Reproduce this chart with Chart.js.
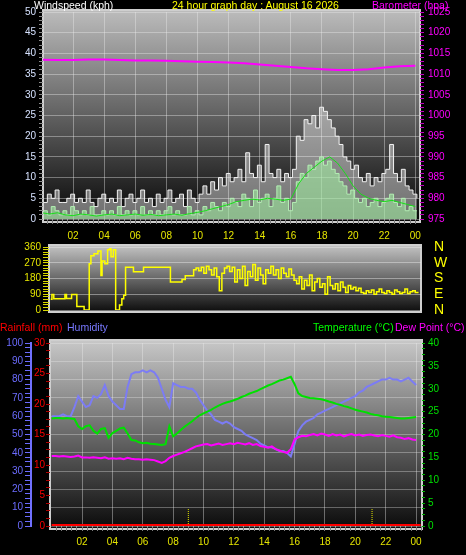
<!DOCTYPE html>
<html>
<head>
<meta charset="utf-8">
<script src="https://cdn.jsdelivr.net/npm/chart.js@4.4.1/dist/chart.umd.min.js"></script>
<style>
html, body { margin: 0; padding: 0; background: #000; width: 466px; height: 555px; overflow: hidden; }
#wrap { position: relative; width: 466px; height: 555px; font-family: 'Liberation Sans', Arial, sans-serif; }
canvas { position: absolute; left: 0; }
.lbl { position: absolute; font-size: 10.5px; line-height: 13px; white-space: nowrap; z-index: 5; }
</style>
</head>
<body>
<div id="wrap">
  <canvas id="windChart" width="466" height="245" style="top:0"></canvas>
  <canvas id="dirChart" width="466" height="85" style="top:239px"></canvas>
  <canvas id="tempChart" width="466" height="235" style="top:320px"></canvas>

  <span class="lbl" style="left:34px;top:-1px;color:#ffffff">Windspeed (kph)</span>
  <span class="lbl" style="left:172px;top:-1px;color:#ffff00">24 hour graph day : August 16 2026</span>
  <span class="lbl" style="left:372px;top:-1px;color:#ff00ff">Barometer (hpa)</span>
  <span class="lbl" style="left:0;top:321px;color:#ff0000">Rainfall (mm)</span>
  <span class="lbl" style="left:67px;top:321px;color:#7878ff">Humidity</span>
  <span class="lbl" style="left:313px;top:321px;color:#00ff00">Temperature (°C)</span>
  <span class="lbl" style="left:395px;top:321px;color:#ff00ff">Dew Point (°C)</span>
</div>

<script>
// ---- wind (kph), one value every 15 minutes from 00:06
const windStart = 0.1;
const windStep = 0.25;
const windGust = [4, 6, 5, 7, 4, 4, 5, 6, 4,
  5, 4, 7, 4, 3, 5, 6, 4,
  5, 4, 7, 3, 5, 6, 4, 5,
  7, 4, 5, 3, 6, 4, 5, 7,
  4, 5, 6, 3, 7, 5, 4, 6,
  8, 6, 9, 7, 10, 8, 11, 9,
  10, 12, 9, 16, 11, 10, 13, 9,
  18, 11, 10, 12, 9, 11, 10, 12,
  20, 19, 24, 23, 25, 22, 27, 26,
  24, 22, 20, 18, 15, 14, 12, 13,
  10, 9, 11, 8, 10, 9, 11, 12,
  18, 11, 9, 12, 8, 7, 6, 5];
const windSpeed = [2, 1, 3, 2, 1, 2, 1, 3, 2,
  1, 2, 1, 3, 1, 1, 2, 1,
  2, 1, 3, 1, 2, 1, 2, 1,
  3, 1, 2, 1, 2, 1, 2, 3,
  1, 2, 1, 1, 3, 1, 2, 1,
  3, 2, 4, 3, 2, 4, 3, 5,
  4, 3, 6, 5, 3, 7, 4, 5,
  6, 3, 5, 8, 4, 5, 2, 4,
  9, 11, 10, 13, 12, 14, 15, 13,
  14, 12, 11, 9, 8, 6, 7, 5,
  4, 5, 3, 4, 5, 3, 4, 5,
  6, 4, 3, 5, 2, 3, 2, 2];
// average wind, every 30 minutes from 00:00
const avgStep = 0.5;
const windAvg = [1.5, 1.2, 1.5, 1.0, 0.8, 1.2, 1.0, 0.7, 1.0, 1.2, 0.8, 1.0, 1.2, 0.9, 1.1, 0.8, 1.0, 1.2, 0.9, 1.3, 1.6,
  2.0, 2.5, 3.0, 3.5, 4.2, 4.5, 4.8, 4.6, 5.0, 4.8, 4.5, 4.8,
  8.5, 11, 12.5, 14, 15, 13.5, 11, 8,
  6, 5, 4.5, 4.2, 4.5, 4.0, 3.5, 3.0];
// barometer (hpa), hourly
const baroHours = [0, 1, 2, 3, 4, 5, 6, 7, 8, 9, 10, 11, 12, 13, 14, 15, 16, 17, 18, 19, 20, 21, 22, 23, 24];
const baro = [1013.5, 1013.4, 1013.4, 1013.5, 1013.5, 1013.4, 1013.3, 1013.3, 1013.2, 1013.1, 1013.0, 1012.9,
  1012.8, 1012.6, 1012.3, 1012.0, 1011.7, 1011.4, 1011.2, 1011.0, 1011.0, 1011.2, 1011.6, 1011.9, 1012.0];

// ---- wind direction (degrees)
const dirEarlyHours = [0.5, 0.58, 0.7, 1.42, 1.52, 1.85, 2.19, 2.66, 2.99, 3.1,
  3.3, 3.55, 3.75, 3.82, 4.0, 4.18, 4.3, 4.4, 4.55, 4.7,
  4.95, 5.1, 5.22, 5.34, 5.85, 6.5, 8.24, 8.99, 9.2, 9.74];
const dirEarly = [62, 88, 64, 88, 66, 88, 20, 0, 264, 310,
  322, 337, 197, 280, 265, 345, 350, 305, 345, 0,
  28, 65, 84, 244, 219, 244, 160, 175, 196, 230];
// every 10 minutes from 09:54
const dirLateStart = 9.9;
const dirLateStep = 1 / 6;
const dirLate = [240, 225, 245, 210, 250, 230, 200, 240,
  190, 110, 210,
  240, 250, 220, 245,
  160, 230, 180, 250, 140, 220, 190, 260, 170, 240, 200, 150, 230, 210,
  250, 200, 230, 180, 240, 210, 190, 235, 200, 170,
  150, 190, 120, 170, 140, 200, 110, 160, 180, 130, 150, 90, 190, 140, 120,
  150, 110, 160, 130, 100, 140, 120, 130, 110, 125, 100,
  95, 110, 100, 115, 90, 105, 120, 100, 95, 110, 100, 90, 115, 105, 95, 100, 120, 95, 105, 110, 100, 105];
const compass = { 0: 'N', 90: 'E', 180: 'S', 270: 'W', 360: 'N' };

// ---- temperature panel, one value every 15 minutes from 00:00
const tempStep = 0.25;
const humidity = [60, 60, 60, 61, 60, 60, 65, 71, 68, 65, 66, 71, 70, 72, 77, 71,
  68, 66, 64, 64, 76, 83, 84, 84, 85, 84, 85, 84, 81, 75, 69, 65,
  78, 77, 76, 76, 75, 75, 73, 69, 66, 63, 61, 58, 57, 56, 57, 56,
  54, 53, 52, 50, 49, 48, 47, 45, 44, 43, 43, 42, 41, 41, 40, 38,
  45, 52, 55, 57, 58, 59, 61, 62, 63, 64, 65, 66, 67, 68, 69, 70,
  71, 73, 74, 76, 77, 78, 79, 80, 80, 81, 80, 80, 79, 80, 81, 79, 77];
const temperature = [23.5, 23.6, 23.6, 23.5, 23.6, 23.5, 23.4, 21.8, 21.2, 21.8, 22.0, 20.8, 20.2, 21.2, 21.4, 19.3,
  20.3, 20.8, 21.3, 21.5, 20.2, 18.8, 18.7, 18.3, 18.1, 18.2, 18.0, 17.9, 17.8, 17.7, 17.9, 21.8,
  19.6, 20.2, 21.0, 21.7, 22.3, 22.9, 23.6, 24.2, 24.6, 25.0, 25.4, 25.9, 26.3, 26.7, 27.0, 27.2,
  27.5, 27.8, 28.2, 28.5, 28.9, 29.2, 29.5, 29.9, 30.3, 30.7, 31.0, 31.4, 31.8, 32.0, 32.3, 32.6,
  31.0, 29.0, 28.4, 28.2, 28.0, 27.9, 27.8, 27.7, 27.5, 27.2, 27.0, 26.7, 26.5, 26.2, 26.0, 25.7,
  25.4, 25.2, 25.0, 24.8, 24.5, 24.3, 24.2, 24.0, 23.9, 23.8, 23.7, 23.6, 23.5, 23.5, 23.6, 23.7, 23.8];
const dewPoint = [15.3, 15.3, 15.2, 15.3, 15.2, 15.1, 15.2, 15.4,
  15.0, 15.0, 14.9, 15.0, 14.9, 14.8, 15.0, 14.7,
  14.8, 14.7, 14.8, 14.6, 14.9, 14.7, 14.6, 14.6,
  14.5, 14.6, 14.5, 14.4, 14.1, 13.8, 14.2, 14.9,
  15.3, 15.6, 15.9, 16.2, 16.6, 17.0, 17.4, 17.6,
  17.8, 17.9, 17.6, 17.8, 18.0, 17.7, 17.9, 18.1,
  17.9, 18.2, 18.0, 17.8, 18.1, 17.7, 17.9, 17.5,
  17.3, 17.1, 17.4, 16.8, 16.5, 16.2, 16.0, 16.8,
  18.9, 19.4, 19.7, 19.6, 19.9, 20.1, 19.8, 20.2,
  20.0, 19.7, 20.1, 19.8, 20.0, 19.6, 19.9, 20.1,
  19.8, 20.0, 19.7, 19.9, 20.0, 19.8, 19.6, 19.9,
  19.7, 19.5, 19.8, 19.4, 19.3, 19.0, 19.2, 18.9, 18.8];
const rainHours = [0, 24.3];
const rainfall = [0, 0];
const markerHours = [9.0, 21.1];
const markerTop = 3.7; // in degC, height of the little dotted marks

Chart.defaults.font.family = "'Liberation Sans', Arial, sans-serif";
Chart.defaults.font.size = 10;
Chart.defaults.animation = false;

const pts = (arr, start, step) => arr.map((v, i) => ({ x: start + i * step, y: v }));
const every = (v, m) => Math.abs(v / m - Math.round(v / m)) < 1e-6;

// gradient plot background + light frame
const plotBg = {
  id: 'plotBg',
  beforeDraw(chart, args, o) {
    const { ctx, chartArea: a } = chart;
    const top = a.top - o.padTop, bottom = a.bottom + o.padBottom;
    const g = ctx.createLinearGradient(0, top, 0, bottom);
    g.addColorStop(0, o.from);
    g.addColorStop(1, o.to);
    ctx.save();
    ctx.fillStyle = g;
    ctx.fillRect(a.left, top, a.right - a.left, bottom - top);
    ctx.strokeStyle = '#cfcfcf';
    ctx.lineWidth = 2;
    ctx.strokeRect(a.left, top, a.right - a.left, bottom - top);
    ctx.restore();
  }
};

function hourTicks(scale) {
  const t = [];
  for (let k = 1; k / 3 <= scale.max + 1e-9; k++) t.push({ value: k / 3 });
  scale.ticks = t;
}

function ruler(step) {
  return scale => {
    const t = [];
    const n = Math.round((scale.max - scale.min) / step);
    for (let k = 0; k <= n; k++) t.push({ value: scale.min + k * step });
    scale.ticks = t;
  };
}

function hourAxis(min, max, height, pad) {
  return {
    type: 'linear', min, max,
    afterBuildTicks: hourTicks,
    afterFit: s => { s.height = height; },
    border: { display: false },
    grid: {
      color: c => (c.tick && every(c.tick.value, 2)) ? 'rgba(235,235,235,0.4)' : 'rgba(0,0,0,0)',
      borderDash: [1, 2], tickBorderDash: [],
      tickColor: '#7a7a7a', tickLength: 5
    },
    ticks: {
      color: '#e6e600', padding: pad, autoSkip: false, maxRotation: 0,
      callback: v => every(v, 2) ? String(Math.round(v) % 24).padStart(2, '0') : ''
    }
  };
}

function valueAxis(opts) {
  return {
    type: 'linear', position: opts.position, min: opts.min, max: opts.max, weight: opts.weight || 0,
    afterBuildTicks: ruler(opts.step),
    afterFit: s => { s.width = opts.width; },
    border: opts.border || { display: false },
    grid: {
      drawOnChartArea: !!opts.gridColor,
      color: c => (opts.gridColor && c.tick && every(c.tick.value, opts.major)) ? opts.gridColor : 'rgba(0,0,0,0)',
      borderDash: [1, 2], tickBorderDash: [],
      tickColor: opts.tickColor, tickLength: opts.tickLength
    },
    ticks: {
      color: opts.color, padding: opts.pad, autoSkip: false,
      callback: v => every(v, opts.major) ? String(Math.round(v)) : ''
    }
  };
}

// ---- top: windspeed + barometer
new Chart(document.getElementById('windChart'), {
  type: 'line',
  data: {
    datasets: [
      { data: baro.map((v, i) => ({ x: baroHours[i], y: v })), yAxisID: 'yb',
        borderColor: '#ff00ff', borderWidth: 2, pointRadius: 0 },
      { data: pts(windAvg, 0, avgStep), yAxisID: 'y',
        borderColor: '#18e018', borderWidth: 1, pointRadius: 0 },
      { data: pts(windSpeed, windStart, windStep), yAxisID: 'y', stepped: true,
        borderColor: '#b4f0b4', borderWidth: 1, pointRadius: 0, fill: 'origin', backgroundColor: 'rgba(160,235,160,0.6)' },
      { data: pts(windGust, windStart, windStep), yAxisID: 'y', stepped: true,
        borderColor: '#f4f4f4', borderWidth: 1, pointRadius: 0, fill: 'origin', backgroundColor: 'rgba(255,255,255,0.42)' }
    ]
  },
  options: {
    responsive: false, devicePixelRatio: 1,
    layout: { padding: { top: 12, left: 0, right: 0, bottom: 0 } },
    plugins: { legend: { display: false }, tooltip: { enabled: false },
      plotBg: { from: '#bcbcbc', to: '#050505', padTop: 2, padBottom: 3 } },
    scales: {
      x: hourAxis(0.07, 24.3, 26, 6),
      y: valueAxis({ position: 'left', min: 0, max: 50, step: 1, major: 5, width: 43,
        color: '#d6e2ff', tickColor: '#8c8c8c', tickLength: 4, pad: 3, gridColor: 'rgba(235,235,235,0.4)' }),
      yb: valueAxis({ position: 'right', min: 975, max: 1025, step: 1, major: 5, width: 46,
        color: '#ff00ff', tickColor: '#c000c0', tickLength: 4, pad: 4 })
    }
  },
  plugins: [plotBg]
});

// ---- middle: wind direction
const dirPoints = dirEarly.map((v, i) => ({ x: dirEarlyHours[i], y: v }))
  .concat(pts(dirLate, dirLateStart, dirLateStep));

new Chart(document.getElementById('dirChart'), {
  type: 'line',
  data: {
    datasets: [
      { data: dirPoints, yAxisID: 'y', stepped: true,
        borderColor: '#ffff00', borderWidth: 1.5, pointRadius: 0 }
    ]
  },
  options: {
    responsive: false, devicePixelRatio: 1,
    layout: { padding: { top: 7, left: 0, right: 0, bottom: 14 } },
    plugins: { legend: { display: false }, tooltip: { enabled: false },
      plotBg: { from: '#c4c4c4', to: '#0c0c0c', padTop: 2, padBottom: 2 } },
    scales: {
      x: { type: 'linear', min: 0.39, max: 24.44, display: false },
      y: valueAxis({ position: 'left', min: 0, max: 360, step: 15, major: 90, width: 49,
        color: '#e6e600', tickColor: '#d8d800', tickLength: 6, pad: 2, gridColor: 'rgba(235,235,235,0.45)' }),
      yc: {
        type: 'linear', position: 'right', min: 0, max: 360,
        afterBuildTicks: ruler(90),
        afterFit: s => { s.width = 45; },
        border: { display: false },
        grid: { drawOnChartArea: false, drawTicks: true, tickLength: 13, tickColor: 'rgba(0,0,0,0)' },
        ticks: { color: '#ffff00', padding: 0, autoSkip: false, font: { size: 14, lineHeight: 1 },
          callback: v => compass[v] }
      }
    }
  },
  plugins: [plotBg]
});

// ---- bottom: rain, humidity, temperature, dew point
new Chart(document.getElementById('tempChart'), {
  type: 'line',
  data: {
    datasets: [
      { data: rainfall.map((v, i) => ({ x: rainHours[i], y: v })), yAxisID: 'yr',
        borderColor: '#ff0000', borderWidth: 4, pointRadius: 0 },
      { data: [{ x: markerHours[0], y: 0 }, { x: markerHours[0], y: markerTop }, { x: markerHours[0], y: null },
               { x: markerHours[1], y: 0 }, { x: markerHours[1], y: markerTop }], yAxisID: 'yt',
        borderColor: '#e8e800', borderWidth: 1, borderDash: [1, 1], pointRadius: 0, spanGaps: false },
      { data: pts(temperature, 0, tempStep), yAxisID: 'yt',
        borderColor: '#00e000', borderWidth: 2, pointRadius: 0 },
      { data: pts(dewPoint, 0, tempStep), yAxisID: 'yt',
        borderColor: '#ff00ff', borderWidth: 2, pointRadius: 0 },
      { data: pts(humidity, 0, tempStep), yAxisID: 'yh',
        borderColor: '#7c7cf4', borderWidth: 2, pointRadius: 0 }
    ]
  },
  options: {
    responsive: false, devicePixelRatio: 1,
    layout: { padding: { top: 23, left: 0, right: 0, bottom: 0 } },
    plugins: { legend: { display: false }, tooltip: { enabled: false },
      plotBg: { from: '#c8c8c8', to: '#0a0a0a', padTop: 3, padBottom: 3 } },
    scales: {
      x: hourAxis(-0.11, 24.39, 29, 5),
      yh: valueAxis({ position: 'left', min: 0, max: 100, step: 2.5, major: 10, width: 31, weight: 2,
        color: '#6c6cff', tickColor: '#6c6cff', tickLength: 6, pad: 2, gridColor: 'rgba(235,235,235,0.35)',
        border: { display: true, color: '#7070ff', width: 2 } }),
      yr: valueAxis({ position: 'left', min: 0, max: 30, step: 1.25, major: 5, width: 19, weight: 1,
        color: '#ff0000', tickColor: '#b00000', tickLength: 4, pad: 1 }),
      yt: valueAxis({ position: 'right', min: 0, max: 40, step: 1.25, major: 5, width: 44,
        color: '#00e000', tickColor: '#00b000', tickLength: 3, pad: 3 })
    }
  },
  plugins: [plotBg]
});
</script>
</body>
</html>
